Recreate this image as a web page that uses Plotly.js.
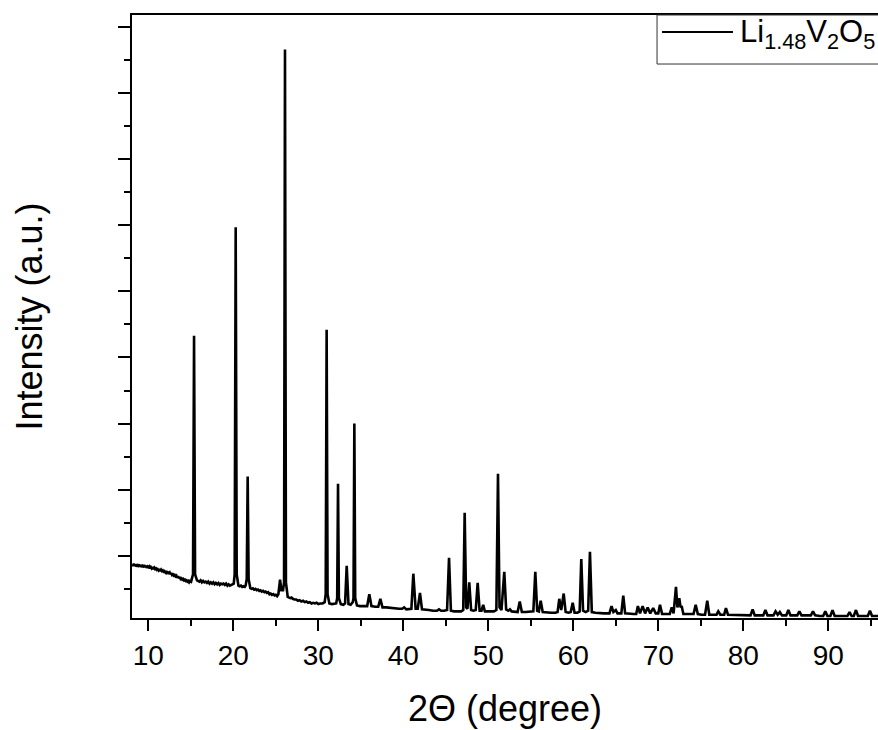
<!DOCTYPE html>
<html>
<head>
<meta charset="utf-8">
<script src="https://cdn.plot.ly/plotly-3.0.1.min.js"></script>
<style>html,body{margin:0;padding:0;background:#fff;}#chart{width:878px;height:730px;}</style>
</head>
<body>
<div id="chart"></div>
<script>
// 2-theta positions (degree)
const twoTheta = [
  8.10, 8.20, 8.30, 8.40, 8.50, 8.60, 8.70, 8.80, 8.90, 9.00,
  9.10, 9.20, 9.30, 9.40, 9.50, 9.60, 9.70, 9.80, 9.90, 10.00,
  10.10, 10.20, 10.30, 10.40, 10.50, 10.60, 10.70, 10.80, 10.90, 11.00,
  11.10, 11.20, 11.30, 11.40, 11.50, 11.60, 11.70, 11.80, 11.90, 12.00,
  12.10, 12.20, 12.30, 12.40, 12.50, 12.60, 12.70, 12.80, 12.90, 13.00,
  13.10, 13.20, 13.30, 13.40, 13.50, 13.60, 13.70, 13.80, 13.90, 14.00,
  14.10, 14.20, 14.30, 14.40, 14.50, 14.60, 14.70, 14.80, 14.90, 15.03,
  15.26, 15.38, 15.50, 15.73,
  16.00, 16.15, 16.30, 16.45, 16.60, 16.75, 16.90, 17.05, 17.20, 17.35,
  17.50, 17.65, 17.80, 17.95, 18.10, 18.25, 18.40, 18.55, 18.70, 18.85,
  19.00, 19.15, 19.30, 19.45, 19.60, 19.75, 19.90, 20.05, 20.16, 20.28,
  20.40, 20.60, 20.75, 20.90, 21.05, 21.20, 21.35, 21.45, 21.58, 21.69,
  21.80, 22.00, 22.15, 22.30, 22.45, 22.60, 22.75, 22.90, 23.05, 23.20,
  23.35, 23.50, 23.65, 23.80, 23.95, 24.10, 24.25, 24.40, 24.55, 24.70,
  24.85, 25.00, 25.15, 25.30, 25.50, 25.65, 25.85,
  25.97, 26.08, 26.19, 26.40, 26.55, 26.70, 26.85, 27.00, 27.20, 27.40,
  27.60, 27.80, 28.00, 28.20, 28.40, 28.60, 28.80, 29.00, 29.20, 29.40,
  29.60, 29.80, 30.00, 30.20, 30.50, 30.75, 30.87, 30.98, 31.09, 31.30,
  31.60, 31.90, 32.10, 32.22, 32.32, 32.42, 32.65, 32.95, 33.15, 33.34,
  33.55, 33.80, 34.05, 34.14, 34.24, 34.34, 34.55, 34.90, 35.30, 35.75,
  36.00, 36.25, 36.70, 37.05, 37.30, 37.55, 38.00, 38.50, 39.00, 39.50,
  39.85, 40.10, 40.35, 40.70, 40.95, 41.18, 41.45, 41.70, 41.96, 42.20,
  42.60, 43.00, 43.50, 43.95, 44.20, 44.45, 44.80, 45.15, 45.38, 45.60,
  46.00, 46.40, 46.80, 47.05, 47.22, 47.40, 47.55, 47.76, 47.98, 48.25,
  48.52, 48.75, 48.98, 49.20, 49.40, 49.60, 49.95, 50.30, 50.65, 50.95,
  51.14, 51.32, 51.55, 51.88, 52.10, 52.35, 52.55, 52.75, 53.10, 53.45,
  53.70, 53.95, 54.40, 54.90, 55.30, 55.53, 55.75, 55.95, 56.16, 56.40,
  56.90, 57.40, 57.90, 58.15, 58.35, 58.58, 58.87, 59.10, 59.45, 59.70,
  59.93, 60.15, 60.50, 60.75, 60.94, 61.15, 61.45, 61.75, 61.96, 62.18,
  62.60, 63.10, 63.60, 64.00, 64.25, 64.50, 64.72, 65.00, 65.20, 65.65,
  65.88, 66.10, 66.60, 67.10, 67.40, 67.60, 67.85, 68.16, 68.45, 68.75,
  69.05, 69.40, 69.70, 70.00, 70.20, 70.45, 70.90, 71.35, 71.58, 71.80,
  72.08, 72.25, 72.47, 72.62, 72.75, 72.95, 73.40, 73.90, 74.15, 74.40,
  74.65, 75.10, 75.50, 75.76, 76.00, 76.50, 76.85, 77.06, 77.30, 77.75,
  77.96, 78.20, 78.80, 79.50, 80.20, 80.85, 81.10, 81.35, 82.00, 82.35,
  82.60, 82.85, 83.55, 83.80, 84.05, 84.30, 84.55, 85.05, 85.30, 85.55,
  86.00, 86.35, 86.60, 86.85, 87.40, 87.95, 88.20, 88.45, 89.00, 89.40,
  89.65, 89.90, 90.25, 90.50, 90.75, 91.40, 92.00, 92.25, 92.50, 92.75,
  93.00, 93.26, 93.50, 94.00, 94.65, 94.90, 95.15, 95.50, 95.90
];

// intensity (arbitrary units)
const intensity = [
  0.87, 0.85, 0.88, 0.85, 0.87, 0.84, 0.86, 0.85, 0.87, 0.84,
  0.86, 0.83, 0.85, 0.84, 0.86, 0.83, 0.85, 0.82, 0.84, 0.83,
  0.84, 0.81, 0.83, 0.81, 0.83, 0.80, 0.82, 0.80, 0.81, 0.79,
  0.80, 0.78, 0.80, 0.77, 0.79, 0.77, 0.78, 0.76, 0.77, 0.75,
  0.77, 0.74, 0.75, 0.74, 0.75, 0.72, 0.74, 0.71, 0.72, 0.70,
  0.71, 0.69, 0.70, 0.67, 0.69, 0.66, 0.68, 0.65, 0.66, 0.64,
  0.65, 0.63, 0.64, 0.62, 0.63, 0.61, 0.62, 0.60, 0.62, 0.61,
  0.72, 4.33, 0.72, 0.63,
  0.61, 0.63, 0.60, 0.62, 0.60, 0.61, 0.59, 0.61, 0.58, 0.60,
  0.58, 0.60, 0.57, 0.59, 0.57, 0.59, 0.56, 0.58, 0.57, 0.58,
  0.56, 0.58, 0.55, 0.57, 0.55, 0.56, 0.56, 0.58, 0.72, 5.97,
  0.72, 0.55, 0.54, 0.55, 0.53, 0.54, 0.53, 0.55, 0.65, 2.20,
  0.65, 0.51, 0.50, 0.51, 0.49, 0.50, 0.48, 0.49, 0.47, 0.48,
  0.46, 0.47, 0.45, 0.46, 0.44, 0.45, 0.42, 0.43, 0.41, 0.42,
  0.40, 0.41, 0.39, 0.42, 0.64, 0.48, 0.48,
  0.60, 8.66, 0.60, 0.38, 0.37, 0.36, 0.37, 0.35, 0.34, 0.34,
  0.32, 0.33, 0.31, 0.32, 0.30, 0.31, 0.29, 0.30, 0.28, 0.29,
  0.28, 0.29, 0.27, 0.28, 0.28, 0.30, 0.42, 4.42, 0.42, 0.28,
  0.27, 0.27, 0.28, 0.36, 2.09, 0.36, 0.27, 0.26, 0.28, 0.85,
  0.27, 0.26, 0.30, 0.36, 3.00, 0.36, 0.25, 0.24, 0.24, 0.24,
  0.42, 0.24, 0.23, 0.23, 0.35, 0.22, 0.22, 0.21, 0.21, 0.20,
  0.20, 0.22, 0.19, 0.19, 0.20, 0.73, 0.20, 0.20, 0.44, 0.19,
  0.18, 0.18, 0.17, 0.17, 0.19, 0.17, 0.17, 0.18, 0.97, 0.17,
  0.16, 0.16, 0.16, 0.18, 1.65, 0.22, 0.20, 0.60, 0.18, 0.17,
  0.18, 0.59, 0.17, 0.17, 0.26, 0.16, 0.16, 0.16, 0.16, 0.18,
  2.24, 0.22, 0.18, 0.76, 0.19, 0.17, 0.19, 0.16, 0.15, 0.15,
  0.31, 0.15, 0.15, 0.15, 0.16, 0.76, 0.17, 0.16, 0.32, 0.15,
  0.14, 0.14, 0.14, 0.15, 0.35, 0.18, 0.43, 0.15, 0.14, 0.15,
  0.29, 0.14, 0.14, 0.16, 0.95, 0.17, 0.15, 0.17, 1.06, 0.15,
  0.14, 0.13, 0.13, 0.13, 0.13, 0.24, 0.15, 0.18, 0.13, 0.13,
  0.40, 0.13, 0.12, 0.12, 0.12, 0.24, 0.13, 0.24, 0.13, 0.22,
  0.13, 0.21, 0.13, 0.13, 0.26, 0.12, 0.12, 0.12, 0.22, 0.13,
  0.53, 0.22, 0.36, 0.22, 0.24, 0.12, 0.12, 0.12, 0.12, 0.26,
  0.12, 0.11, 0.11, 0.32, 0.11, 0.11, 0.11, 0.16, 0.11, 0.11,
  0.21, 0.11, 0.11, 0.10, 0.10, 0.10, 0.19, 0.10, 0.10, 0.10,
  0.18, 0.10, 0.10, 0.16, 0.11, 0.15, 0.10, 0.10, 0.18, 0.10,
  0.10, 0.10, 0.16, 0.10, 0.10, 0.10, 0.16, 0.10, 0.09, 0.09,
  0.16, 0.09, 0.09, 0.18, 0.09, 0.09, 0.09, 0.09, 0.15, 0.09,
  0.09, 0.18, 0.09, 0.09, 0.09, 0.17, 0.09, 0.09, 0.09
];

const seriesName = "Li1.48V2O5";
const legendLabel = "Li<sub>1.48</sub>V<sub>2</sub>O<sub>5</sub>";
const xTitle = "2\u0398 (degree)";
const yTitle = "\u00A0\u00A0Intensity (a.u.)";

const FONT = "Liberation Sans, Arial, Helvetica, sans-serif";

const trace = {
  type: "scatter",
  mode: "lines",
  x: twoTheta,
  y: intensity,
  name: seriesName,
  showlegend: false,
  hoverinfo: "skip",
  line: {color: "#000000", width: 2.6}
};

const layout = {
  width: 878,
  height: 730,
  margin: {l: 132, r: 0, t: 15, b: 112, pad: 0},
  paper_bgcolor: "#ffffff",
  plot_bgcolor: "#ffffff",
  font: {family: FONT, color: "#000000"},
  showlegend: false,
  xaxis: {
    range: [8.08, 95.85],
    tick0: 0,
    dtick: 10,
    ticks: "outside",
    ticklen: 11,
    tickwidth: 2,
    tickcolor: "#000000",
    minor: {dtick: 5, ticks: "outside", ticklen: 6, tickwidth: 2, tickcolor: "#000000"},
    showline: true,
    linewidth: 2,
    linecolor: "#000000",
    mirror: true,
    showgrid: false,
    zeroline: false,
    tickfont: {family: FONT, size: 28, color: "#000000"},
    title: {text: xTitle, font: {family: FONT, size: 36, color: "#000000"}, standoff: 26}
  },
  yaxis: {
    range: [0.06, 9.18],
    tick0: 0,
    dtick: 1,
    ticks: "outside",
    ticklen: 12,
    tickwidth: 2,
    tickcolor: "#000000",
    minor: {dtick: 0.5, ticks: "outside", ticklen: 6, tickwidth: 2, tickcolor: "#000000"},
    showticklabels: false,
    showline: true,
    linewidth: 2,
    linecolor: "#000000",
    mirror: false,
    showgrid: false,
    zeroline: false,
    title: {text: yTitle, font: {family: FONT, size: 36, color: "#000000"}, standoff: 64}
  },
  shapes: [
    {type: "rect", xref: "paper", yref: "paper", x0: 0.7038, x1: 1.05, y0: 0.9187, y1: 1.0,
     line: {color: "#333333", width: 1}, fillcolor: "rgba(0,0,0,0)", layer: "above"},
    {type: "line", xref: "paper", yref: "paper", x0: 0.7105, x1: 0.8056, y0: 0.9718, y1: 0.9718,
     line: {color: "#000000", width: 2}, layer: "above"}
  ],
  annotations: [
    {xref: "paper", yref: "paper", x: 0.813, y: 0.968, xanchor: "left", yanchor: "middle",
     text: legendLabel, showarrow: false, font: {family: FONT, size: 31, color: "#000000"}}
  ]
};

Plotly.newPlot("chart", [trace], layout, {staticPlot: true, displayModeBar: false});
</script>
</body>
</html>
